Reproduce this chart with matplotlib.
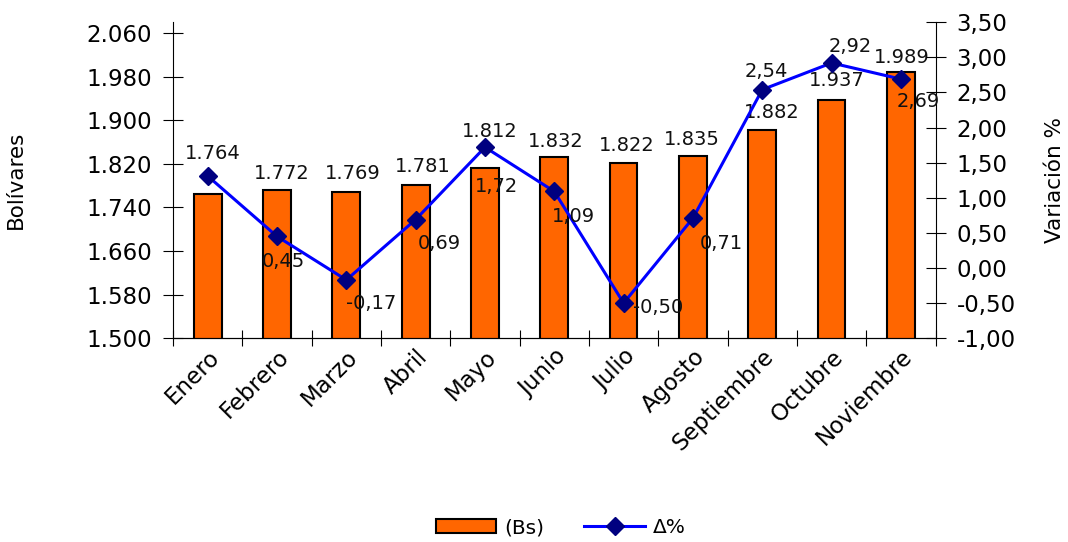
import numpy as np
import matplotlib
matplotlib.use("Agg")
import matplotlib.pyplot as plt
from matplotlib.ticker import FuncFormatter, FixedLocator

meses = ["Enero", "Febrero", "Marzo", "Abril", "Mayo", "Junio", "Julio",
         "Agosto", "Septiembre", "Octubre", "Noviembre"]
bolivares = [1764, 1772, 1769, 1781, 1812, 1832, 1822, 1835, 1882, 1937, 1989]
variacion = [1.31, 0.45, -0.17, 0.69, 1.72, 1.09, -0.50, 0.71, 2.54, 2.92, 2.69]
# la etiqueta de enero no aparece en el original
mostrar_var = [False] + [True] * 10

# desplazamientos de etiquetas (pixeles), solo estilo
off_bar = [(5, 41), (5, 17), (6, 18), (7, 19), (5, 37), (1, 16),
           (3, 17), (-1, 16), (9, 18), (5, 20), (1, 14)]
off_var = [(0, 0), (6, -25), (25, -24), (24, -24), (12, -39), (19, -25),
           (35, -4), (28, -25), (4, 18), (19, 16), (17, -22)]

plt.rcParams["font.family"] = ["DejaVu Sans"]

fig = plt.figure(figsize=(10.68, 5.42), dpi=100)
ax = fig.add_axes([0.162, 0.376, 0.714, 0.583])
x = np.arange(len(meses))

ax.bar(x, bolivares, width=0.4, color="#FF6600", edgecolor="black",
       linewidth=1.5, label="(Bs)", zorder=2)
ax.set_xlim(-0.5, len(meses) - 0.5)
ax.set_ylim(1500, 2080)
ax.set_yticks(np.arange(1500, 2061, 80))
ax.yaxis.set_major_formatter(FuncFormatter(lambda v, p: f"{v:,.0f}".replace(",", ".")))

# ticks en los bordes de categoria, etiquetas al centro
ax.xaxis.set_major_locator(FixedLocator(np.arange(-0.5, len(meses), 1)))
ax.xaxis.set_major_formatter(FuncFormatter(lambda v, p: ""))
ax.set_xticks(x, minor=True)
ax.set_xticklabels(meses, minor=True, rotation=45, ha="right",
                   rotation_mode="anchor", fontsize=16.5)
ax.tick_params(axis="x", which="minor", length=0, pad=5)
ax.tick_params(axis="x", which="major", direction="inout", length=12)
ax.tick_params(axis="y", direction="inout", length=14, labelsize=16.5, pad=8)

ax.spines["top"].set_visible(False)
ax.spines["right"].set_visible(False)

for i, v in enumerate(bolivares):
    ax.annotate(f"{v:,}".replace(",", "."), (x[i], v), xytext=off_bar[i],
                textcoords="offset pixels", ha="center", va="center",
                fontsize=14, color="#111111", zorder=5)

ax.set_ylabel("Bolívares", fontsize=15.5)
ax.yaxis.set_label_coords(-0.193, 0.5)

ax2 = ax.twinx()
ax2.plot(x, variacion, color="#0000FF", linewidth=2.2, marker="D",
         markersize=9, markerfacecolor="#000080", markeredgecolor="#000080",
         label="Δ%", zorder=3)
ax2.set_ylim(-1, 3.5)
ax2.set_yticks(np.arange(-1, 3.51, 0.5))
ax2.yaxis.set_major_formatter(FuncFormatter(lambda v, p: f"{v:.2f}".replace(".", ",")))
ax2.tick_params(axis="y", direction="inout", length=14, labelsize=16.5, pad=8)
ax2.spines["top"].set_visible(False)
ax2.spines["left"].set_visible(False)

for i, v in enumerate(variacion):
    if mostrar_var[i]:
        ax2.annotate(f"{v:.2f}".replace(".", ","), (x[i], v), xytext=off_var[i],
                     textcoords="offset pixels", ha="center", va="center",
                     fontsize=14, color="#111111")

ax2.set_ylabel("Variación %", fontsize=15.5)
ax2.yaxis.set_label_coords(1.143, 0.5)

h1, l1 = ax.get_legend_handles_labels()
h2, l2 = ax2.get_legend_handles_labels()
fig.legend(h1 + h2, l1 + l2, loc="lower center", bbox_to_anchor=(0.525, -0.025),
           ncol=2, frameon=False, fontsize=14.5, handlelength=3.0,
           handletextpad=0.4, columnspacing=2.0)

fig.savefig("out.png", dpi=100)
